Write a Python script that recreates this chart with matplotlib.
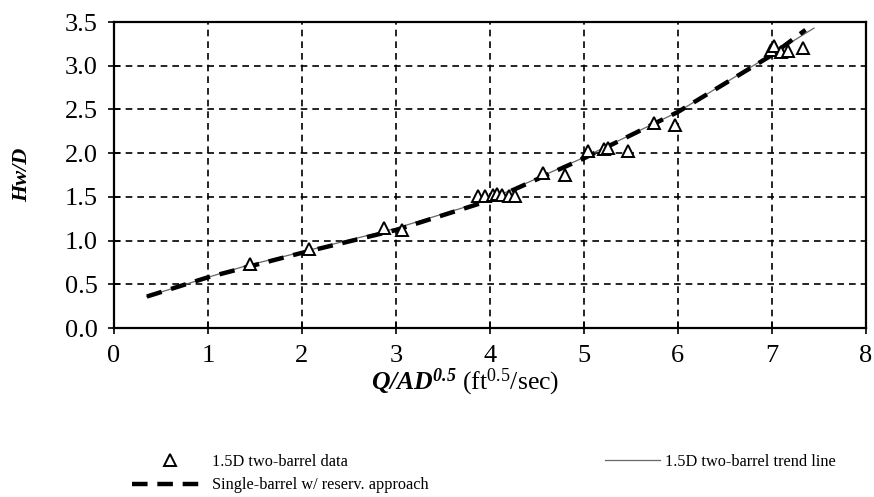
import matplotlib
matplotlib.use("Agg")
from matplotlib import pyplot as plt

# 1.5D two-barrel measurements
q_data = [1.45, 2.08, 2.87, 3.07, 3.87, 3.95, 4.03, 4.08, 4.13, 4.20, 4.27,
          4.57, 4.80, 5.05, 5.22, 5.26, 5.47, 5.75, 5.97,
          6.99, 7.03, 7.10, 7.17, 7.33]
hw_data = [0.73, 0.90, 1.14, 1.12, 1.51, 1.51, 1.52, 1.53, 1.52, 1.51, 1.51,
           1.77, 1.75, 2.03, 2.05, 2.06, 2.02, 2.35, 2.32,
           3.18, 3.23, 3.16, 3.17, 3.20]

# trend line through the two-barrel data
q_trend = [0.35, 1.0, 1.4, 2.0, 3.0, 4.0, 5.0, 6.0, 7.0, 7.45]
hw_trend = [0.36, 0.58, 0.71, 0.87, 1.14, 1.47, 1.95, 2.47, 3.13, 3.43]

# single-barrel curve with reservoir approach
q_single = [0.35, 1.0, 2.0, 3.0, 4.0, 5.0, 6.0, 7.0, 7.36]
hw_single = [0.36, 0.58, 0.86, 1.12, 1.46, 1.94, 2.47, 3.12, 3.41]

xticks = [0, 1, 2, 3, 4, 5, 6, 7, 8]
yticks = [0.0, 0.5, 1.0, 1.5, 2.0, 2.5, 3.0, 3.5]

plt.rcParams['font.family'] = ['Liberation Serif', 'DejaVu Serif']
plt.rcParams['mathtext.fontset'] = 'custom'
plt.rcParams['mathtext.rm'] = 'Liberation Serif'
plt.rcParams['mathtext.it'] = 'Liberation Serif:italic'
plt.rcParams['mathtext.bf'] = 'Liberation Serif:bold'
plt.rcParams['mathtext.bfit'] = 'Liberation Serif:bold:italic'

fig = plt.figure(figsize=(8.74, 4.97), dpi=100)
ax = fig.add_axes([0.1304, 0.340, 0.860, 0.6157])

pts, = ax.plot(q_data, hw_data, linestyle='none', marker='^', markersize=8,
               markerfacecolor='white', markeredgecolor='black', markeredgewidth=1.4,
               label='1.5D two-barrel data', zorder=4)
single, = ax.plot(q_single, hw_single, color='black', lw=3.2, dashes=(3.5, 2.2),
                  label='Single-barrel w/ reserv. approach', zorder=3)
trend, = ax.plot(q_trend, hw_trend, color='#666666', lw=0.9,
                 label='1.5D two-barrel trend line', zorder=2)

ax.set_xlim(0, 8)
ax.set_ylim(0, 3.5)
ax.set_xticks(xticks)
ax.set_yticks(yticks)
ax.set_yticklabels(['%.1f' % v for v in yticks])
ax.tick_params(direction='inout', length=9, width=1.2, labelsize=19)
ax.tick_params(axis='x', pad=8)
ax.tick_params(axis='y', pad=7)
ax.grid(True, color='black', linestyle=(0, (4, 3)), linewidth=1.2)
for s in ax.spines.values():
    s.set_linewidth(1.6)

ax.set_ylabel('Hw/D', fontsize=16, fontweight='bold', style='italic')
ax.yaxis.set_label_coords(-0.109, 0.5)
ax.set_xlabel(r'$\mathbfit{Q/AD}^{\mathbfit{0.5}}$ (ft$^{0.5}$/sec)', fontsize=18.5)
ax.xaxis.set_label_coords(0.467, -0.127)

fig.legend([pts, single], [pts.get_label(), single.get_label()],
           loc='upper left', bbox_to_anchor=(0.142, 0.103),
           frameon=False, fontsize=11.7, handlelength=4.6,
           labelspacing=0.45, handletextpad=0.3, borderpad=0)
fig.legend([trend], [trend.get_label()],
           loc='upper left', bbox_to_anchor=(0.683, 0.103),
           frameon=False, fontsize=11.7, handlelength=3.4,
           handletextpad=0.3, borderpad=0)

fig.savefig('out.png', dpi=100)
